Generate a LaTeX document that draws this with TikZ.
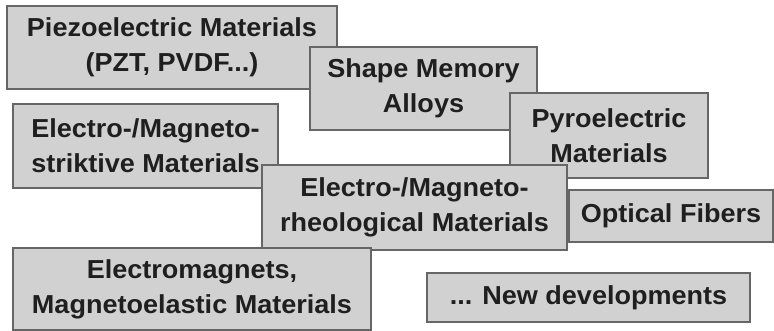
\documentclass[tikz,border=0pt]{standalone}
\usepackage{fontspec}
\newfontfamily\boxfont{Liberation Sans}[FakeStretch=1.04]
\begin{document}
\begin{tikzpicture}[x=1pt,y=-1pt,
  mbox/.style={draw=black!60, line width=1.3pt, fill=black!18, text=black!88,
    inner sep=0pt, align=center,
    font=\boxfont\bfseries\fontsize{26}{35}\selectfont}]
\useasboundingbox (0,0) rectangle (774,331);
\newcommand{\mkbox}[6]{%
  \node[mbox, minimum width=#4-#2, minimum height=#5-#3] (#1) at ({(#2+#4)/2},{(#3+#5)/2}) {#6};}
\mkbox{piezo}{7}{6}{337}{89}{Piezoelectric Materials\\(PZT, PVDF...)}
\mkbox{shape}{310}{47}{537}{130}{Shape Memory\\Alloys}
\mkbox{strikt}{13}{104}{278}{188}{Electro-/Magneto-\\striktive Materials}
\mkbox{pyro}{510}{93}{708}{178}{Pyroelectric\\Materials}
\mkbox{rheo}{262}{165}{567}{250}{Electro-/Magneto-\\rheological Materials}
\mkbox{optic}{569}{190}{773}{242}{Optical Fibers}
\mkbox{emag}{13}{248}{371}{330}{Electromagnets,\\Magnetoelastic Materials}
\mkbox{newdev}{427}{273}{750}{322}{... New developments}
\end{tikzpicture}
\end{document}
